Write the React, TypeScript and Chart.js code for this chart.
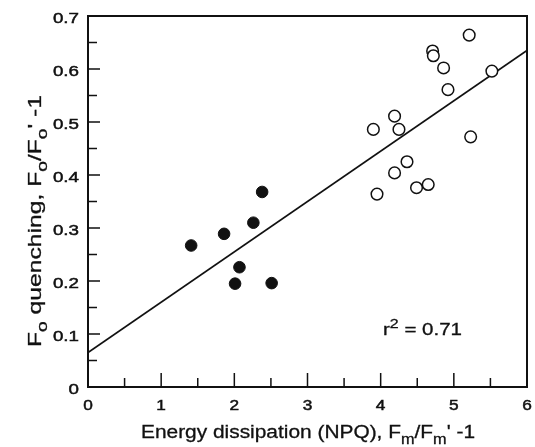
import { useEffect, useRef } from "react";
import { Chart, registerables } from "chart.js";

Chart.register(...registerables);

// Filled circles
const filledX = [1.41, 1.86, 2.26, 2.07, 2.01, 2.51, 2.38];
const filledY = [0.267, 0.289, 0.31, 0.226, 0.195, 0.196, 0.368];
// Open circles
const openX = [5.21, 4.71, 4.72, 4.86, 5.52, 4.92, 4.19, 3.9, 4.25, 5.23, 4.36, 4.19, 4.49, 4.65, 3.95];
const openY = [0.664, 0.634, 0.625, 0.602, 0.596, 0.561, 0.511, 0.486, 0.486, 0.472, 0.425, 0.404, 0.376, 0.382, 0.364];
// Regression line
const fitX = [0, 6];
const fitY = [0.065, 0.635];
// Ticks
const xTicks = [0, 1, 2, 3, 4, 5, 6];
const xTickLabels = ["0", "1", "2", "3", "4", "5", "6"];
const yTicks = [0, 0.1, 0.2, 0.3, 0.4, 0.5, 0.6, 0.7];
const yTickLabels = ["0", "0.1", "0.2", "0.3", "0.4", "0.5", "0.6", "0.7"];

const FONT = '"Liberation Sans", Arial, Helvetica, sans-serif';

type Seg = { t: string; k?: "sub" | "sup" };

function drawRich(
  ctx: CanvasRenderingContext2D,
  segs: Seg[],
  size: number,
  x: number,
  y: number,
  opts: { width?: number; scale?: number; align?: "left" | "center" | "right"; rotate?: boolean; heavy?: number }
) {
  const fontFor = (s: Seg) => `${s.k ? size * 0.78 : size}px ${FONT}`;
  let total = 0;
  const widths: number[] = [];
  for (const s of segs) {
    ctx.font = fontFor(s);
    const w = ctx.measureText(s.t).width;
    widths.push(w);
    total += w;
  }
  const sc = opts.width ? opts.width / total : opts.scale ?? 1;
  ctx.save();
  ctx.translate(x, y);
  if (opts.rotate) ctx.rotate(-Math.PI / 2);
  ctx.scale(sc, 1);
  ctx.textBaseline = "alphabetic";
  ctx.textAlign = "left";
  ctx.fillStyle = "#111";
  ctx.strokeStyle = "#111";
  ctx.lineWidth = opts.heavy ?? 0;
  const align = opts.align ?? "left";
  let cx = align === "center" ? -total / 2 : align === "right" ? -total : 0;
  segs.forEach((s, i) => {
    ctx.font = fontFor(s);
    const dy = s.k === "sub" ? size * 0.32 : s.k === "sup" ? -size * 0.42 : 0;
    ctx.fillText(s.t, cx, dy);
    if (opts.heavy) ctx.strokeText(s.t, cx, dy);
    cx += widths[i];
  });
  ctx.restore();
}

const decorPlugin = {
  id: "decor",
  afterDraw(chart: any) {
    const ctx: CanvasRenderingContext2D = chart.ctx;
    const { left, right, top, bottom } = chart.chartArea;
    const xs = chart.scales.x;
    const ys = chart.scales.y;
    ctx.save();
    // frame
    ctx.strokeStyle = "#111";
    ctx.lineWidth = 2;
    ctx.strokeRect(left, top, right - left, bottom - top);
    // ticks
    ctx.lineWidth = 1.5;
    ctx.beginPath();
    xTicks.forEach((v, i) => {
      const px = xs.getPixelForValue(v);
      ctx.moveTo(px, bottom);
      ctx.lineTo(px, bottom - 14);
      if (i < xTicks.length - 1) {
        const mx = xs.getPixelForValue((v + xTicks[i + 1]) / 2);
        ctx.moveTo(mx, bottom);
        ctx.lineTo(mx, bottom - 9);
      }
    });
    yTicks.forEach((v, i) => {
      const py = ys.getPixelForValue(v);
      ctx.moveTo(left, py);
      ctx.lineTo(left + 12, py);
      if (i < yTicks.length - 1) {
        const my = ys.getPixelForValue((v + yTicks[i + 1]) / 2);
        ctx.moveTo(left, my);
        ctx.lineTo(left + 9, my);
      }
    });
    ctx.stroke();
    // tick labels
    xTicks.forEach((v, i) => {
      drawRich(ctx, [{ t: xTickLabels[i] }], 15, xs.getPixelForValue(v), bottom + 23, {
        scale: 1.15,
        align: "center",
        heavy: 0.5,
      });
    });
    yTicks.forEach((v, i) => {
      drawRich(ctx, [{ t: yTickLabels[i] }], 15, left - 9, ys.getPixelForValue(v) + 7, {
        scale: 1.25,
        align: "right",
        heavy: 0.5,
      });
    });
    // x title
    drawRich(
      ctx,
      [
        { t: "Energy dissipation (NPQ), F" },
        { t: "m", k: "sub" },
        { t: "/F" },
        { t: "m", k: "sub" },
        { t: "' -1" },
      ],
      18,
      308,
      438,
      { width: 334, align: "center", heavy: 0.3 }
    );
    // y title
    drawRich(
      ctx,
      [
        { t: "F" },
        { t: "o", k: "sub" },
        { t: " quenching, F" },
        { t: "o", k: "sub" },
        { t: "/F" },
        { t: "o", k: "sub" },
        { t: "' -1" },
      ],
      18,
      41,
      221,
      { width: 252, align: "center", rotate: true, heavy: 0.3 }
    );
    // r^2 annotation
    drawRich(
      ctx,
      [{ t: "r" }, { t: "2", k: "sup" }, { t: " = 0.71" }],
      16,
      383,
      335,
      { width: 79, align: "left", heavy: 0.3 }
    );
    ctx.restore();
  },
};

export default function App() {
  const ref = useRef<HTMLCanvasElement | null>(null);
  useEffect(() => {
    if (!ref.current) return;
    const chart = new Chart(ref.current, {
      type: "scatter",
      data: {
        datasets: [
          {
            type: "line",
            data: fitX.map((x, i) => ({ x, y: fitY[i] })),
            borderColor: "#111",
            borderWidth: 1.8,
            pointRadius: 0,
            fill: false,
            order: 3,
          } as any,
          {
            data: openX.map((x, i) => ({ x, y: openY[i] })),
            backgroundColor: "#fff",
            borderColor: "#111",
            borderWidth: 1.5,
            pointRadius: 5.8,
            order: 2,
          },
          {
            data: filledX.map((x, i) => ({ x, y: filledY[i] })),
            backgroundColor: "#111",
            borderColor: "#111",
            borderWidth: 1,
            pointRadius: 5.8,
            order: 1,
          },
        ],
      },
      options: {
        responsive: false,
        animation: false,
        layout: { padding: { left: 88, right: 8, top: 16, bottom: 60 } },
        plugins: { legend: { display: false }, tooltip: { enabled: false } },
        scales: {
          x: { type: "linear", min: 0, max: 6, display: false },
          y: { type: "linear", min: 0, max: 0.7, display: false },
        },
      },
      plugins: [decorPlugin],
    });
    return () => chart.destroy();
  }, []);
  return (
    <div style={{ position: "absolute", left: 0, top: 0, width: 535, height: 447, background: "#fff" }}>
      <canvas ref={ref} width={535} height={447} />
    </div>
  );
}
